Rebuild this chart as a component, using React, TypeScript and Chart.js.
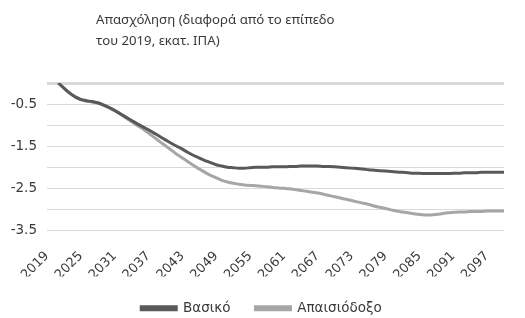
import React, { useEffect, useRef } from "react";
import { Chart, registerables } from "chart.js";

Chart.register(...registerables);

const years = [
  "2019","2020","2021","2022","2023","2024","2025","2026","2027","2028",
  "2029","2030","2031","2032","2033","2034","2035","2036","2037","2038",
  "2039","2040","2041","2042","2043","2044","2045","2046","2047","2048",
  "2049","2050","2051","2052","2053","2054","2055","2056","2057","2058",
  "2059","2060","2061","2062","2063","2064","2065","2066","2067","2068",
  "2069","2070","2071","2072","2073","2074","2075","2076","2077","2078",
  "2079","2080","2081","2082","2083","2084","2085","2086","2087","2088",
  "2089","2090","2091","2092","2093","2094","2095","2096","2097","2098",
  "2099","2100",
];

const shownYearLabels = [
  "2019","2025","2031","2037","2043","2049","2055","2061","2067","2073","2079","2085","2091","2097",
];

const basic = [
  null, null, 0, -0.12, -0.24, -0.33, -0.39, -0.42, -0.44, -0.47,
  -0.52, -0.58, -0.65, -0.73, -0.81, -0.89, -0.97, -1.04, -1.11, -1.19,
  -1.27, -1.35, -1.43, -1.5, -1.57, -1.65, -1.72, -1.78, -1.84, -1.89,
  -1.94, -1.97, -2.0, -2.01, -2.02, -2.02, -2.01, -2.0, -2.0, -2.0,
  -1.99, -1.99, -1.99, -1.98, -1.98, -1.97, -1.97, -1.97, -1.97, -1.98,
  -1.98, -1.99, -2.0, -2.01, -2.02, -2.03, -2.04, -2.06, -2.07, -2.08,
  -2.09, -2.1, -2.11, -2.12, -2.13, -2.14, -2.14, -2.15, -2.15, -2.15,
  -2.15, -2.15, -2.14, -2.14, -2.13, -2.13, -2.13, -2.12, -2.12, -2.12,
  -2.12, -2.12,
];

const pessimistic = [
  null, null, 0, -0.12, -0.23, -0.33, -0.4, -0.43, -0.45, -0.48,
  -0.53, -0.59, -0.66, -0.74, -0.83, -0.92, -1.01, -1.09, -1.19, -1.29,
  -1.39, -1.49, -1.59, -1.69, -1.78, -1.87, -1.96, -2.04, -2.12, -2.19,
  -2.25, -2.31, -2.35, -2.38, -2.4, -2.42, -2.43, -2.44, -2.45, -2.46,
  -2.48, -2.49, -2.5, -2.51, -2.53, -2.55, -2.57, -2.59, -2.61, -2.64,
  -2.67, -2.7, -2.73, -2.76, -2.79, -2.82, -2.85, -2.88, -2.92, -2.95,
  -2.98, -3.01, -3.04, -3.06, -3.08, -3.1, -3.12, -3.13, -3.13, -3.12,
  -3.1, -3.08, -3.07, -3.06, -3.06, -3.05, -3.05, -3.05, -3.04, -3.04,
  -3.04, -3.04,
];

const yLabelled = [-0.5, -1.5, -2.5, -3.5];
const seriesNames = ["Βασικό", "Απαισιόδοξο"];
const titleLines = ["Απασχόληση (διαφορά από το επίπεδο", "του 2019, εκατ. ΙΠΑ)"];

const FONT = "'DejaVu Sans', sans-serif";
const TITLE_FONT = "'Noto Sans', sans-serif";

export default function App() {
  const ref = useRef<HTMLCanvasElement | null>(null);

  useEffect(() => {
    document.body.style.margin = "0";
    const canvas = ref.current;
    if (!canvas) return;
    const chart = new Chart(canvas, {
      type: "line",
      data: {
        labels: years,
        datasets: [
          {
            label: seriesNames[0],
            data: basic,
            borderColor: "#595959",
            backgroundColor: "#595959",
            borderWidth: 3,
            pointRadius: 0,
            tension: 0.4,
            cubicInterpolationMode: "monotone",
          },
          {
            label: seriesNames[1],
            data: pessimistic,
            borderColor: "#a6a6a6",
            backgroundColor: "#a6a6a6",
            borderWidth: 3,
            pointRadius: 0,
            tension: 0.4,
            cubicInterpolationMode: "monotone",
          },
        ],
      },
      options: {
        responsive: false,
        animation: false,
        layout: { padding: { top: 83, left: 0, right: 2, bottom: -7 } },
        plugins: {
          title: { display: false },
          tooltip: { enabled: false },
          legend: {
            position: "bottom",
            labels: {
              boxWidth: 35,
              boxHeight: 3,
              padding: 25,
              color: "#3a3a3a",
              font: { family: FONT, size: 13.5 },
            },
          },
        },
        scales: {
          x: {
            offset: false,
            grid: { display: false },
            border: { display: false },
            ticks: {
              autoSkip: false,
              minRotation: 45,
              maxRotation: 45,
              padding: 10,
              color: "#3a3a3a",
              font: { family: FONT, size: 13 },
              callback: (_v: any, i: number) =>
                shownYearLabels.includes(years[i]) ? years[i] : "",
            },
            afterFit: (s: any) => {
              s.height = 46;
            },
          },
          y: {
            min: -3.5,
            max: 0,
            border: { display: false },
            grid: {
              color: "#d9d9d9",
              drawTicks: false,
              lineWidth: (ctx: any) => (ctx.tick && ctx.tick.value === 0 ? 3 : 1),
            },
            ticks: {
              stepSize: 0.5,
              padding: 10,
              color: "#3a3a3a",
              font: { family: FONT, size: 13.5 },
              callback: (v: any) => (yLabelled.includes(Number(v)) ? String(v) : ""),
            },
            afterFit: (s: any) => {
              s.width = 47;
            },
          },
        },
      },
    });
    return () => chart.destroy();
  }, []);

  return (
    <div style={{ position: "relative", width: 525, height: 318, background: "#fff" }}>
      <div
        style={{
          position: "absolute",
          left: 96,
          top: 9,
          fontFamily: TITLE_FONT,
          fontSize: 13.2,
          lineHeight: "21px",
          color: "#3a3a3a",
          whiteSpace: "nowrap",
        }}
      >
        {titleLines.map((t, i) => (
          <div key={i}>{t}</div>
        ))}
      </div>
      <canvas ref={ref} width={525} height={318} style={{ display: "block" }} />
    </div>
  );
}
